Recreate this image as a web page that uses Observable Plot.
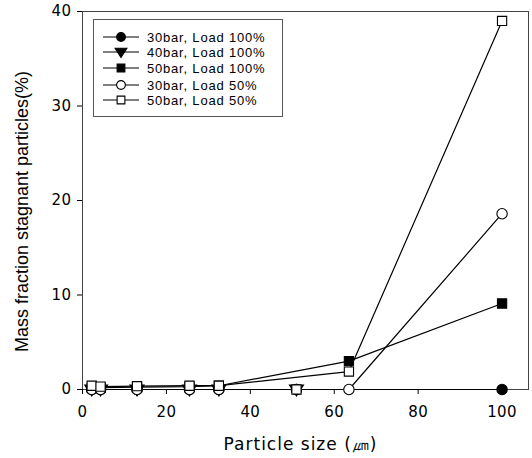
<!DOCTYPE html>
<html><head><meta charset="utf-8">
<script src="https://cdn.jsdelivr.net/npm/d3@7"></script>
<script src="https://cdn.jsdelivr.net/npm/@observablehq/plot@0.6"></script>
<style>
body{margin:0;background:#fff;}
#wrap{position:relative;width:532px;height:458px;font-family:"Liberation Sans",Arial,sans-serif;}
#legend{position:absolute;left:93px;top:19px;width:190px;height:98px;border:1px solid #555;background:#fff;box-sizing:border-box;}
#legend .row{position:absolute;left:0;height:16px;display:flex;align-items:center;font-size:13px;letter-spacing:0.8px;color:#000;white-space:nowrap;}
#legend svg{margin-left:9px;margin-right:8px;}
.ticklab text{font-family:"DejaVu Sans",sans-serif;letter-spacing:0.4px;}
.xtitle text{font-family:"DejaVu Sans",sans-serif;letter-spacing:1px;}
.ytitle text{font-family:"Liberation Sans",Arial,sans-serif;letter-spacing:0;}
</style></head><body>
<div id="wrap"><div id="legend"></div></div>
<script>
// Particle sizes (µm)
const sizes = [2.2, 4.3, 13, 25.5, 32.5, 51, 63.5, 100];
// Mass fraction of stagnant particles (%), null = no point
const bar30Load100 = [0, 0, 0, 0, 0, 0, null, 0];
const bar40Load100 = [0, 0, 0, 0, 0, 0, null, null];
const bar50Load100 = [0.2, 0.2, 0.25, 0.3, 0.4, null, 3.0, 9.1];
const bar30Load50  = [0, 0, 0, 0, 0, 0, 0, 18.6];
const bar50Load50  = [0.4, 0.3, 0.35, 0.4, 0.4, null, 1.9, 39.0];
// an unconnected open square drawn on the axis
const looseSquares = [[51, 0]];
const seriesNames = ["30bar, Load 100%", "40bar, Load 100%", "50bar, Load 100%", "30bar, Load 50%", "50bar, Load 50%"];
const xTicks = [0, 20, 40, 60, 80, 100];
const yTicks = [0, 10, 20, 30, 40];

const triangleDown = {
  draw(context, size) {
    const y = -Math.sqrt(size / (Math.sqrt(3) * 3));
    const s3 = Math.sqrt(3);
    context.moveTo(0, -2 * y * 0.8);
    context.lineTo(-s3 * y, y * 1.1);
    context.lineTo(s3 * y, y * 1.1);
    context.closePath();
  }
};

const seriesValues = [bar30Load100, bar40Load100, bar50Load100, bar30Load50, bar50Load50];
const symbols = ["circle", triangleDown, "square", "circle", "square"];
const fills = ["black", "black", "black", "white", "white"];
const drawOrder = [1, 0, 2, 3, 4];

const rows = [];
seriesValues.forEach((vals, i) => {
  vals.forEach((v, j) => { if (v != null) rows.push({series: seriesNames[i], si: i, x: sizes[j], y: v}); });
});
looseSquares.forEach(([x, y]) => rows.push({series: seriesNames[4], si: 4, x, y, loose: true}));

const marks = [];
drawOrder.forEach(i => {
  const d = rows.filter(r => r.si === i && !r.loose);
  marks.push(Plot.line(d, {x: "x", y: "y", stroke: "black", strokeWidth: 1.2}));
});
drawOrder.forEach(i => {
  const d = rows.filter(r => r.si === i);
  marks.push(Plot.dot(d, {x: "x", y: "y", symbol: symbols[i], r: 5.2, fill: fills[i], stroke: "black", strokeWidth: 1.1}));
});

const chart = Plot.plot({
  width: 532, height: 458,
  marginLeft: 82, marginRight: 4, marginTop: 11, marginBottom: 69,
  style: {fontFamily: "'Liberation Sans', Arial, sans-serif", fontSize: "14px", color: "black", background: "white"},
  x: {domain: [0, 106.3]},
  y: {domain: [0, 40]},
  marks: [
    Plot.frame({stroke: "#444"}),
    Plot.axisX({ticks: xTicks, tickSize: 5, tickPadding: 12, fontSize: 15, label: null, className: "ticklab"}),
    Plot.axisY({ticks: yTicks, tickSize: 5, tickPadding: 6, fontSize: 15, label: null, className: "ticklab"}),
    Plot.text(["Particle size (㎛)"], {frameAnchor: "bottom", dx: -5, dy: 60, fontSize: 17, textAnchor: "middle", className: "xtitle"}),
    Plot.text(["Mass fraction stagnant particles(%)"], {frameAnchor: "left", dx: -60, dy: 11, rotate: -90, fontSize: 18, textAnchor: "middle", className: "ytitle"}),
    ...marks
  ]
});
document.getElementById("wrap").prepend(chart);

// legend
const legend = document.getElementById("legend");
const rowTops = [9, 24, 40, 57, 72];
seriesNames.forEach((name, i) => {
  const row = document.createElement("div");
  row.className = "row";
  row.style.top = rowTops[i] + "px";
  const svg = d3.create("svg").attr("width", 36).attr("height", 14);
  svg.append("line").attr("x1", 0).attr("x2", 36).attr("y1", 7).attr("y2", 7).attr("stroke", "black").attr("stroke-width", 1.2);
  const sym = typeof symbols[i] === "string" ? (symbols[i] === "circle" ? d3.symbolCircle : d3.symbolSquare) : symbols[i];
  svg.append("path").attr("transform", "translate(18,7)").attr("d", d3.symbol(sym, 60)())
    .attr("fill", fills[i]).attr("stroke", "black").attr("stroke-width", 1.1);
  row.appendChild(svg.node());
  const t = document.createElement("span");
  t.textContent = name;
  row.appendChild(t);
  legend.appendChild(row);
});
</script>
</body></html>
